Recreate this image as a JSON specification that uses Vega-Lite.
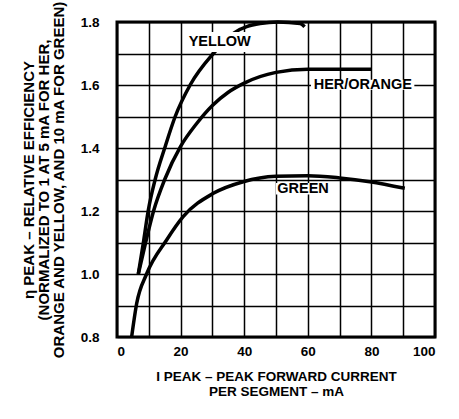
{
  "$schema": "https://vega.github.io/schema/vega-lite/v6.json",
  "width": 318,
  "height": 315,
  "autosize": "none",
  "padding": {"left": 117, "top": 22, "right": 24, "bottom": 82},
  "background": "white",
  "config": {
    "view": {"stroke": "black", "strokeWidth": 3},
    "font": "Liberation Sans",
    "axis": {
      "domain": false, "tickSize": 0, "grid": true, "gridColor": "black", "gridWidth": 1.5, "gridOpacity": 1,
      "labelFont": "Liberation Sans", "labelFontWeight": "bold", "labelFontSize": 13.5, "labelColor": "black",
      "titleFont": "Liberation Sans", "titleFontWeight": "bold", "titleFontSize": 14, "titleColor": "black"
    }
  },
  "datasets": {
    "curves": [
      {"series": "YELLOW", "x": 6.7, "y": 1.0},
      {"series": "YELLOW", "x": 8.3, "y": 1.1},
      {"series": "YELLOW", "x": 9.8, "y": 1.2},
      {"series": "YELLOW", "x": 12, "y": 1.3},
      {"series": "YELLOW", "x": 15, "y": 1.4},
      {"series": "YELLOW", "x": 18.3, "y": 1.5},
      {"series": "YELLOW", "x": 23, "y": 1.6},
      {"series": "YELLOW", "x": 30.3, "y": 1.7},
      {"series": "YELLOW", "x": 36.6, "y": 1.764},
      {"series": "YELLOW", "x": 45, "y": 1.795},
      {"series": "YELLOW", "x": 50.6, "y": 1.8},
      {"series": "YELLOW", "x": 57.6, "y": 1.795},
      {"series": "YELLOW", "x": 59, "y": 1.785},
      {"series": "HER/ORANGE", "x": 6.7, "y": 1.0},
      {"series": "HER/ORANGE", "x": 9, "y": 1.1},
      {"series": "HER/ORANGE", "x": 11.5, "y": 1.2},
      {"series": "HER/ORANGE", "x": 15, "y": 1.3},
      {"series": "HER/ORANGE", "x": 20, "y": 1.405},
      {"series": "HER/ORANGE", "x": 25, "y": 1.477},
      {"series": "HER/ORANGE", "x": 30, "y": 1.535},
      {"series": "HER/ORANGE", "x": 35, "y": 1.577},
      {"series": "HER/ORANGE", "x": 40, "y": 1.606},
      {"series": "HER/ORANGE", "x": 50, "y": 1.64},
      {"series": "HER/ORANGE", "x": 60, "y": 1.65},
      {"series": "HER/ORANGE", "x": 80, "y": 1.65},
      {"series": "GREEN", "x": 4.6, "y": 0.8},
      {"series": "GREEN", "x": 6.2, "y": 0.907},
      {"series": "GREEN", "x": 9.3, "y": 1.0},
      {"series": "GREEN", "x": 15.6, "y": 1.108},
      {"series": "GREEN", "x": 20.8, "y": 1.182},
      {"series": "GREEN", "x": 30.3, "y": 1.256},
      {"series": "GREEN", "x": 39.7, "y": 1.293},
      {"series": "GREEN", "x": 50, "y": 1.31},
      {"series": "GREEN", "x": 60, "y": 1.312},
      {"series": "GREEN", "x": 70, "y": 1.305},
      {"series": "GREEN", "x": 79.5, "y": 1.293},
      {"series": "GREEN", "x": 90.5, "y": 1.272}
    ],
    "labels": [
      {"label": "YELLOW", "x": 32.3, "y": 1.735, "x1": 22.5, "x2": 42, "y1": 1.705, "y2": 1.768},
      {"label": "HER/ORANGE", "x": 77.3, "y": 1.6, "x1": 61, "x2": 93.5, "y1": 1.585, "y2": 1.617},
      {"label": "GREEN", "x": 58.5, "y": 1.27, "x1": 50, "x2": 67.5, "y1": 1.252, "y2": 1.289}
    ]
  },
  "layer": [
    {
      "data": {"name": "curves"},
      "mark": {"type": "line", "color": "black", "strokeWidth": 3.5, "interpolate": "monotone"},
      "encoding": {
        "x": {"field": "x", "type": "quantitative",
          "scale": {"domain": [0, 100], "nice": false},
          "axis": {"grid": true,
            "values": [0,10,20,30,40,50,60,70,80,90,100], "labelExpr": "datum.value % 20 === 0 ? datum.label : ''", "labelPadding": 7,
            "title": ["I PEAK – PEAK FORWARD CURRENT", "PER SEGMENT – mA"], "titlePadding": 12, "titleLineHeight": 15, "titleFontSize": 13.5}},
        "y": {"field": "y", "type": "quantitative",
          "scale": {"domain": [0.8, 1.8], "nice": false, "zero": false},
          "axis": {"grid": true,
            "values": [0.8,0.9,1.0,1.1,1.2,1.3,1.4,1.5,1.6,1.7,1.8], "labelExpr": "round(datum.value*10) % 2 === 0 ? format(datum.value, '.1f') : ''", "labelPadding": 18,
            "title": ["η PEAK – RELATIVE EFFICIENCY", "(NORMALIZED TO 1 AT 5 mA FOR HER,", "ORANGE AND YELLOW, AND 10 mA FOR GREEN)"], "titlePadding": 14, "titleLineHeight": 15, "titleFontSize": 15}},
        "detail": {"field": "series", "type": "nominal"}
      }
    },
    {
      "data": {"name": "labels"},
      "mark": {"type": "rect", "color": "white"},
      "encoding": {
        "x": {"field": "x1", "type": "quantitative",
          "scale": {"domain": [0, 100], "nice": false},
          "axis": {"grid": true,
            "values": [0,10,20,30,40,50,60,70,80,90,100], "labelExpr": "datum.value % 20 === 0 ? datum.label : ''", "labelPadding": 7,
            "title": ["I PEAK – PEAK FORWARD CURRENT", "PER SEGMENT – mA"], "titlePadding": 12, "titleLineHeight": 15, "titleFontSize": 13.5}},
        "x2": {"field": "x2"},
        "y": {"field": "y1", "type": "quantitative",
          "scale": {"domain": [0.8, 1.8], "nice": false, "zero": false},
          "axis": {"grid": true,
            "values": [0.8,0.9,1.0,1.1,1.2,1.3,1.4,1.5,1.6,1.7,1.8], "labelExpr": "round(datum.value*10) % 2 === 0 ? format(datum.value, '.1f') : ''", "labelPadding": 18,
            "title": ["η PEAK – RELATIVE EFFICIENCY", "(NORMALIZED TO 1 AT 5 mA FOR HER,", "ORANGE AND YELLOW, AND 10 mA FOR GREEN)"], "titlePadding": 14, "titleLineHeight": 15, "titleFontSize": 15}},
        "y2": {"field": "y2"}
      }
    },
    {
      "data": {"name": "labels"},
      "mark": {"type": "text", "color": "black", "font": "Liberation Sans", "fontWeight": "bold", "fontSize": 14.5, "align": "center", "baseline": "middle"},
      "encoding": {
        "x": {"field": "x", "type": "quantitative",
          "scale": {"domain": [0, 100], "nice": false},
          "axis": {"grid": true,
            "values": [0,10,20,30,40,50,60,70,80,90,100], "labelExpr": "datum.value % 20 === 0 ? datum.label : ''", "labelPadding": 7,
            "title": ["I PEAK – PEAK FORWARD CURRENT", "PER SEGMENT – mA"], "titlePadding": 12, "titleLineHeight": 15, "titleFontSize": 13.5}},
        "y": {"field": "y", "type": "quantitative",
          "scale": {"domain": [0.8, 1.8], "nice": false, "zero": false},
          "axis": {"grid": true,
            "values": [0.8,0.9,1.0,1.1,1.2,1.3,1.4,1.5,1.6,1.7,1.8], "labelExpr": "round(datum.value*10) % 2 === 0 ? format(datum.value, '.1f') : ''", "labelPadding": 18,
            "title": ["η PEAK – RELATIVE EFFICIENCY", "(NORMALIZED TO 1 AT 5 mA FOR HER,", "ORANGE AND YELLOW, AND 10 mA FOR GREEN)"], "titlePadding": 14, "titleLineHeight": 15, "titleFontSize": 15}},
        "text": {"field": "label"}
      }
    }
  ]
}
